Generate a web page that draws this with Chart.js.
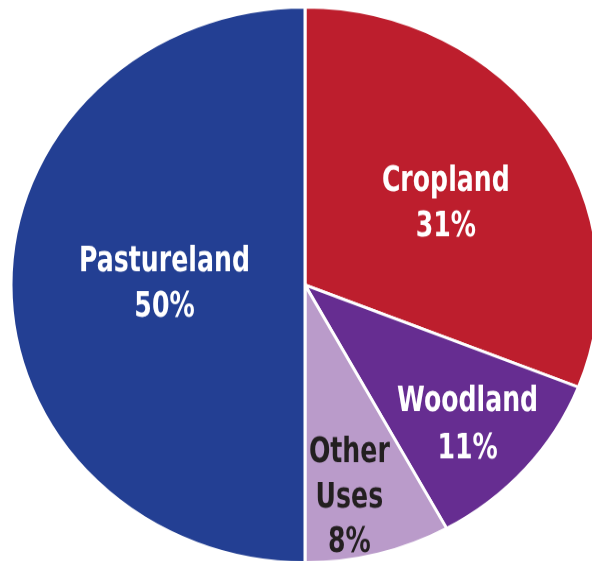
<!DOCTYPE html>
<html>
<head>
<meta charset="utf-8">
<script src="https://cdn.jsdelivr.net/npm/chart.js@4"></script>
<style>
  html, body { margin: 0; padding: 0; background: #fff; overflow: hidden; width: 592px; height: 561px; }
  #wrap { position: absolute; left: 0; top: 0; width: 610px; height: 603px; transform: scaleY(0.945); transform-origin: 0 0; }
</style>
</head>
<body>
<div id="wrap"><canvas id="pie" width="610" height="603"></canvas></div>
<script>
const categories = ['Cropland', 'Woodland', 'Other Uses', 'Pastureland'];
const shares = [31, 11, 8, 50];
const colors = ['#BD1E2D', '#662D91', '#BA9BCA', '#233F93'];
const textColors = ['#FFFFFF', '#FFFFFF', '#231F20', '#FFFFFF'];
const labelLines = [['Cropland'], ['Woodland'], ['Other', 'Uses'], ['Pastureland']];

// label placement: fraction of radius and small angle nudge (deg)
const labelFrac = [0.566, 0.742, 0.77, 0.478];
const labelNudge = [2, 0.4, 3.1, 1.5];
const SY = 0.945; // vertical squash of the original picture
const SX = 0.8;   // condensed look for the label font

const sliceLabels = {
  id: 'sliceLabels',
  afterDatasetsDraw(chart) {
    const ctx = chart.ctx;
    const arcs = chart.getDatasetMeta(0).data;
    arcs.forEach((arc, i) => {
      const p = arc.getProps(['x', 'y', 'startAngle', 'endAngle', 'outerRadius'], true);
      const a = (p.startAngle + p.endAngle) / 2 + labelNudge[i] * Math.PI / 180;
      const r = p.outerRadius * labelFrac[i];
      const x = p.x + Math.cos(a) * r;
      const y = p.y + Math.sin(a) * r;
      const lines = labelLines[i].concat([shares[i] + '%']);
      const step = i === 1 ? 47 : 45;
      ctx.save();
      ctx.translate(x, y);
      ctx.scale(SX, 1 / SY);
      ctx.fillStyle = textColors[i];
      ctx.font = 'bold 35px "Liberation Sans Narrow", "DejaVu Sans Condensed", sans-serif';
      ctx.textAlign = 'center';
      ctx.textBaseline = 'alphabetic';
      const top = -(lines.length - 1) * step / 2;
      lines.forEach((t, k) => ctx.fillText(t, 0, top + k * step + 12.5));
      ctx.restore();
    });
  }
};

new Chart(document.getElementById('pie'), {
  type: 'pie',
  data: {
    labels: categories,
    datasets: [{
      data: shares,
      backgroundColor: colors,
      borderColor: '#FFFFFF',
      borderWidth: 3
    }]
  },
  options: {
    responsive: false,
    animation: false,
    radius: 294,
    layout: { padding: 0 },
    plugins: { legend: { display: false }, tooltip: { enabled: false } }
  },
  plugins: [sliceLabels]
});
</script>
</body>
</html>
